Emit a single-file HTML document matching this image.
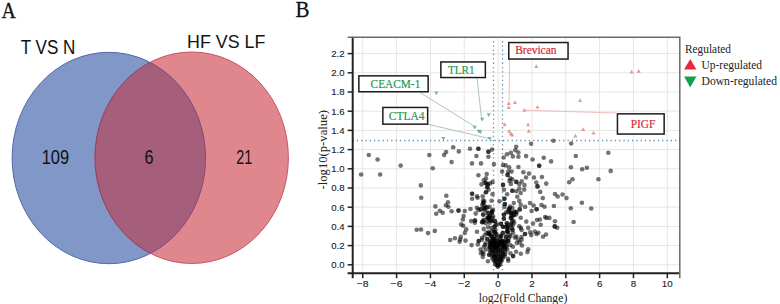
<!DOCTYPE html><html><head><meta charset="utf-8"><style>html,body{margin:0;padding:0;background:#fff;width:780px;height:304px;overflow:hidden}svg{display:block}</style></head><body>
<svg width="780" height="304" viewBox="0 0 780 304">
<rect width="780" height="304" fill="#fff"/>
<defs><clipPath id="cb"><ellipse cx="108.85" cy="158" rx="96.75" ry="105.7"/></clipPath><clipPath id="pa"><rect x="352.5" y="36.8" width="327" height="236.4"/></clipPath></defs>
<ellipse cx="108.85" cy="158" rx="96.75" ry="105.7" fill="#8097c8" stroke="#5266ae" stroke-width="1"/>
<ellipse cx="191.7" cy="157.75" rx="96.7" ry="105.75" fill="#df878c" stroke="#c65464" stroke-width="1"/>
<ellipse clip-path="url(#cb)" cx="191.7" cy="157.75" rx="96.7" ry="105.75" fill="#a55f7b" stroke="#8e4468" stroke-width="1"/>
<clipPath id="cr"><ellipse cx="191.7" cy="157.75" rx="96.7" ry="105.75"/></clipPath>
<ellipse cx="108.85" cy="158" rx="96.75" ry="105.7" fill="none" stroke="#7d4a7e" stroke-width="1" clip-path="url(#cr)"/>
<text x="1.5" y="17.5" font-size="24" font-family="&quot;Liberation Serif&quot;, serif" fill="#111" textLength="14.4" lengthAdjust="spacingAndGlyphs" stroke="#111" stroke-width="0.3">A</text>
<text x="20.7" y="54.3" font-size="19.5" font-family="&quot;Liberation Sans&quot;, sans-serif" fill="#111" textLength="54.7" lengthAdjust="spacingAndGlyphs">T VS N</text>
<text x="187.1" y="47.8" font-size="18.5" font-family="&quot;Liberation Sans&quot;, sans-serif" fill="#111" textLength="78.2" lengthAdjust="spacingAndGlyphs">HF VS LF</text>
<text x="41.7" y="164.1" font-size="20" font-family="&quot;Liberation Sans&quot;, sans-serif" fill="#111" textLength="27.4" lengthAdjust="spacingAndGlyphs">109</text>
<text x="144.5" y="163.7" font-size="20" font-family="&quot;Liberation Sans&quot;, sans-serif" fill="#111" textLength="9" lengthAdjust="spacingAndGlyphs">6</text>
<text x="236.3" y="164.2" font-size="20" font-family="&quot;Liberation Sans&quot;, sans-serif" fill="#111" textLength="16" lengthAdjust="spacingAndGlyphs">21</text>
<text x="295.6" y="17.1" font-size="24" font-family="&quot;Liberation Serif&quot;, serif" fill="#111" textLength="14" lengthAdjust="spacingAndGlyphs" stroke="#111" stroke-width="0.3">B</text>
<g stroke="#e6e6e6" stroke-width="1"><line x1="362.74" y1="36.8" x2="362.74" y2="273.2"/><line x1="396.58" y1="36.8" x2="396.58" y2="273.2"/><line x1="430.42" y1="36.8" x2="430.42" y2="273.2"/><line x1="464.26" y1="36.8" x2="464.26" y2="273.2"/><line x1="498.10" y1="36.8" x2="498.10" y2="273.2"/><line x1="531.94" y1="36.8" x2="531.94" y2="273.2"/><line x1="565.78" y1="36.8" x2="565.78" y2="273.2"/><line x1="599.62" y1="36.8" x2="599.62" y2="273.2"/><line x1="633.46" y1="36.8" x2="633.46" y2="273.2"/><line x1="667.30" y1="36.8" x2="667.30" y2="273.2"/><line x1="352.5" y1="264.80" x2="679.5" y2="264.80"/><line x1="352.5" y1="245.60" x2="679.5" y2="245.60"/><line x1="352.5" y1="226.40" x2="679.5" y2="226.40"/><line x1="352.5" y1="207.20" x2="679.5" y2="207.20"/><line x1="352.5" y1="188.00" x2="679.5" y2="188.00"/><line x1="352.5" y1="168.80" x2="679.5" y2="168.80"/><line x1="352.5" y1="149.60" x2="679.5" y2="149.60"/><line x1="352.5" y1="130.40" x2="679.5" y2="130.40"/><line x1="352.5" y1="111.20" x2="679.5" y2="111.20"/><line x1="352.5" y1="92.00" x2="679.5" y2="92.00"/><line x1="352.5" y1="72.80" x2="679.5" y2="72.80"/><line x1="352.5" y1="53.60" x2="679.5" y2="53.60"/></g>
<g stroke="#6690ad" stroke-width="1.3" stroke-dasharray="1.3 3"><line x1="493.5" y1="36.8" x2="493.5" y2="273.2"/><line x1="502.5" y1="36.8" x2="502.5" y2="273.2"/><line x1="352.5" y1="140.5" x2="679.5" y2="140.5"/></g>
<g fill="#000" fill-opacity="0.55" clip-path="url(#pa)"><circle cx="368.8" cy="155.0" r="2.3"/><circle cx="377.6" cy="159.5" r="2.3"/><circle cx="361.1" cy="174.5" r="2.3"/><circle cx="380.2" cy="174.5" r="2.3"/><circle cx="400.7" cy="165.6" r="2.3"/><circle cx="429.3" cy="155.0" r="2.3"/><circle cx="432.7" cy="168.2" r="2.3"/><circle cx="420.8" cy="185.4" r="2.3"/><circle cx="421.2" cy="197.8" r="2.3"/><circle cx="446.3" cy="195.8" r="2.3"/><circle cx="444.1" cy="155.0" r="2.3"/><circle cx="446.1" cy="152.0" r="2.3"/><circle cx="451.6" cy="162.1" r="2.3"/><circle cx="453.2" cy="147.2" r="2.3"/><circle cx="448.0" cy="202.3" r="2.3"/><circle cx="445.9" cy="205.3" r="2.3"/><circle cx="448.4" cy="206.8" r="2.3"/><circle cx="451.6" cy="211.2" r="2.3"/><circle cx="435.4" cy="206.4" r="2.3"/><circle cx="439.8" cy="210.8" r="2.3"/><circle cx="442.7" cy="212.8" r="2.3"/><circle cx="436.2" cy="213.7" r="2.3"/><circle cx="416.7" cy="229.7" r="2.3"/><circle cx="421.0" cy="229.5" r="2.3"/><circle cx="428.0" cy="233.1" r="2.3"/><circle cx="434.8" cy="230.9" r="2.3"/><circle cx="450.2" cy="240.0" r="2.3"/><circle cx="458.8" cy="151.4" r="2.3"/><circle cx="470.0" cy="148.8" r="2.3"/><circle cx="478.4" cy="148.8" r="2.3"/><circle cx="478.4" cy="148.8" r="2.3"/><circle cx="476.4" cy="156.0" r="2.3"/><circle cx="472.0" cy="163.4" r="2.3"/><circle cx="481.0" cy="163.4" r="2.3"/><circle cx="488.4" cy="151.8" r="2.3"/><circle cx="488.4" cy="151.8" r="2.3"/><circle cx="492.0" cy="149.6" r="2.3"/><circle cx="488.4" cy="156.8" r="2.3"/><circle cx="494.0" cy="164.3" r="2.3"/><circle cx="486.7" cy="174.0" r="2.3"/><circle cx="478.4" cy="175.3" r="2.3"/><circle cx="486.0" cy="178.4" r="2.3"/><circle cx="458.5" cy="210.6" r="2.3"/><circle cx="458.5" cy="210.6" r="2.3"/><circle cx="464.8" cy="211.0" r="2.3"/><circle cx="470.5" cy="209.0" r="2.3"/><circle cx="463.6" cy="216.0" r="2.3"/><circle cx="462.8" cy="219.5" r="2.3"/><circle cx="461.2" cy="224.4" r="2.3"/><circle cx="463.2" cy="225.8" r="2.3"/><circle cx="466.2" cy="229.4" r="2.3"/><circle cx="464.8" cy="232.9" r="2.3"/><circle cx="460.8" cy="236.9" r="2.3"/><circle cx="454.9" cy="238.3" r="2.3"/><circle cx="472.1" cy="193.8" r="2.3"/><circle cx="472.1" cy="193.8" r="2.3"/><circle cx="477.0" cy="196.2" r="2.3"/><circle cx="472.1" cy="198.8" r="2.3"/><circle cx="477.0" cy="207.7" r="2.3"/><circle cx="475.7" cy="213.6" r="2.3"/><circle cx="471.1" cy="221.1" r="2.3"/><circle cx="475.0" cy="220.5" r="2.3"/><circle cx="475.0" cy="220.5" r="2.3"/><circle cx="477.0" cy="231.8" r="2.3"/><circle cx="571.2" cy="143.5" r="2.3"/><circle cx="504.9" cy="204.0" r="2.3"/><circle cx="504.9" cy="204.0" r="2.3"/><circle cx="504.4" cy="206.9" r="2.3"/><circle cx="520.7" cy="204.9" r="2.3"/><circle cx="525.1" cy="206.9" r="2.3"/><circle cx="508.8" cy="209.4" r="2.3"/><circle cx="508.8" cy="209.4" r="2.3"/><circle cx="510.8" cy="212.8" r="2.3"/><circle cx="510.8" cy="212.8" r="2.3"/><circle cx="507.8" cy="212.3" r="2.3"/><circle cx="516.2" cy="212.3" r="2.3"/><circle cx="516.2" cy="212.3" r="2.3"/><circle cx="519.7" cy="209.4" r="2.3"/><circle cx="519.7" cy="209.4" r="2.3"/><circle cx="513.8" cy="215.3" r="2.3"/><circle cx="513.8" cy="215.3" r="2.3"/><circle cx="503.9" cy="214.8" r="2.3"/><circle cx="503.9" cy="214.8" r="2.3"/><circle cx="503.9" cy="218.8" r="2.3"/><circle cx="503.9" cy="218.8" r="2.3"/><circle cx="520.7" cy="217.8" r="2.3"/><circle cx="513.3" cy="220.7" r="2.3"/><circle cx="500.9" cy="223.7" r="2.3"/><circle cx="500.9" cy="223.7" r="2.3"/><circle cx="506.9" cy="223.2" r="2.3"/><circle cx="506.9" cy="223.2" r="2.3"/><circle cx="510.8" cy="224.7" r="2.3"/><circle cx="502.9" cy="226.7" r="2.3"/><circle cx="502.9" cy="226.7" r="2.3"/><circle cx="507.8" cy="227.7" r="2.3"/><circle cx="507.8" cy="227.7" r="2.3"/><circle cx="519.2" cy="226.2" r="2.3"/><circle cx="482.8" cy="256.9" r="2.3"/><circle cx="488.0" cy="261.3" r="2.3"/><circle cx="483.5" cy="253.9" r="2.3"/><circle cx="513.1" cy="256.1" r="2.3"/><circle cx="513.1" cy="256.1" r="2.3"/><circle cx="516.1" cy="251.7" r="2.3"/><circle cx="518.3" cy="239.8" r="2.3"/><circle cx="482.0" cy="239.6" r="2.3"/><circle cx="485.3" cy="244.9" r="2.3"/><circle cx="482.6" cy="252.1" r="2.3"/><circle cx="489.2" cy="254.7" r="2.3"/><circle cx="489.2" cy="254.7" r="2.3"/><circle cx="508.3" cy="260.7" r="2.3"/><circle cx="506.3" cy="242.9" r="2.3"/><circle cx="512.9" cy="246.8" r="2.3"/><circle cx="516.8" cy="242.9" r="2.3"/><circle cx="514.9" cy="237.6" r="2.3"/><circle cx="510.3" cy="236.3" r="2.3"/><circle cx="497.1" cy="224.6" r="2.3"/><circle cx="491.5" cy="231.4" r="2.3"/><circle cx="494.9" cy="232.3" r="2.3"/><circle cx="494.9" cy="232.3" r="2.3"/><circle cx="489.0" cy="234.0" r="2.3"/><circle cx="489.0" cy="234.0" r="2.3"/><circle cx="484.7" cy="235.3" r="2.3"/><circle cx="491.5" cy="235.7" r="2.3"/><circle cx="491.5" cy="235.7" r="2.3"/><circle cx="482.1" cy="237.8" r="2.3"/><circle cx="487.2" cy="239.1" r="2.3"/><circle cx="487.2" cy="239.1" r="2.3"/><circle cx="493.2" cy="239.1" r="2.3"/><circle cx="493.2" cy="239.1" r="2.3"/><circle cx="496.7" cy="237.4" r="2.3"/><circle cx="485.5" cy="243.4" r="2.3"/><circle cx="490.7" cy="243.8" r="2.3"/><circle cx="490.7" cy="243.8" r="2.3"/><circle cx="494.9" cy="242.5" r="2.3"/><circle cx="494.9" cy="242.5" r="2.3"/><circle cx="483.8" cy="246.8" r="2.3"/><circle cx="489.8" cy="246.8" r="2.3"/><circle cx="489.8" cy="246.8" r="2.3"/><circle cx="494.9" cy="246.8" r="2.3"/><circle cx="494.9" cy="246.8" r="2.3"/><circle cx="496.3" cy="234.0" r="2.3"/><circle cx="505.3" cy="227.1" r="2.3"/><circle cx="502.7" cy="233.1" r="2.3"/><circle cx="502.7" cy="233.1" r="2.3"/><circle cx="507.0" cy="231.4" r="2.3"/><circle cx="507.0" cy="231.4" r="2.3"/><circle cx="501.0" cy="236.5" r="2.3"/><circle cx="501.0" cy="236.5" r="2.3"/><circle cx="506.1" cy="236.5" r="2.3"/><circle cx="506.1" cy="236.5" r="2.3"/><circle cx="509.5" cy="234.8" r="2.3"/><circle cx="501.8" cy="241.7" r="2.3"/><circle cx="501.8" cy="241.7" r="2.3"/><circle cx="507.8" cy="240.8" r="2.3"/><circle cx="507.8" cy="240.8" r="2.3"/><circle cx="513.0" cy="233.1" r="2.3"/><circle cx="516.4" cy="236.5" r="2.3"/><circle cx="521.5" cy="237.0" r="2.3"/><circle cx="519.8" cy="242.5" r="2.3"/><circle cx="497.6" cy="246.0" r="2.3"/><circle cx="497.6" cy="246.0" r="2.3"/><circle cx="503.6" cy="246.0" r="2.3"/><circle cx="503.6" cy="246.0" r="2.3"/><circle cx="510.4" cy="245.1" r="2.3"/><circle cx="480.5" cy="249.5" r="2.3"/><circle cx="481.0" cy="253.2" r="2.3"/><circle cx="486.0" cy="249.5" r="2.3"/><circle cx="507.2" cy="249.5" r="2.3"/><circle cx="510.4" cy="253.2" r="2.3"/><circle cx="508.1" cy="258.7" r="2.3"/><circle cx="477.8" cy="244.5" r="2.3"/><circle cx="459.6" cy="241.8" r="2.3"/><circle cx="460.1" cy="239.5" r="2.3"/><circle cx="465.5" cy="240.6" r="2.3"/><circle cx="471.6" cy="245.1" r="2.3"/><circle cx="478.7" cy="241.1" r="2.3"/><circle cx="478.7" cy="241.1" r="2.3"/><circle cx="516.2" cy="146.8" r="2.3"/><circle cx="515.3" cy="150.3" r="2.3"/><circle cx="518.4" cy="152.5" r="2.3"/><circle cx="510.9" cy="152.8" r="2.3"/><circle cx="507.0" cy="154.2" r="2.3"/><circle cx="512.9" cy="156.4" r="2.3"/><circle cx="518.4" cy="156.8" r="2.3"/><circle cx="503.7" cy="157.5" r="2.3"/><circle cx="526.1" cy="156.1" r="2.3"/><circle cx="531.1" cy="143.7" r="2.3"/><circle cx="532.6" cy="159.5" r="2.3"/><circle cx="503.0" cy="165.0" r="2.3"/><circle cx="505.7" cy="165.4" r="2.3"/><circle cx="509.2" cy="167.4" r="2.3"/><circle cx="518.4" cy="167.0" r="2.3"/><circle cx="539.2" cy="165.7" r="2.3"/><circle cx="539.2" cy="165.7" r="2.3"/><circle cx="502.1" cy="171.6" r="2.3"/><circle cx="508.3" cy="171.6" r="2.3"/><circle cx="511.6" cy="171.6" r="2.3"/><circle cx="507.6" cy="174.9" r="2.3"/><circle cx="507.6" cy="174.9" r="2.3"/><circle cx="523.4" cy="172.2" r="2.3"/><circle cx="529.0" cy="173.6" r="2.3"/><circle cx="526.0" cy="177.5" r="2.3"/><circle cx="534.0" cy="177.5" r="2.3"/><circle cx="510.3" cy="178.4" r="2.3"/><circle cx="553.4" cy="140.8" r="2.3"/><circle cx="543.7" cy="157.8" r="2.3"/><circle cx="551.1" cy="161.4" r="2.3"/><circle cx="575.8" cy="156.0" r="2.3"/><circle cx="608.3" cy="152.8" r="2.3"/><circle cx="570.9" cy="167.2" r="2.3"/><circle cx="582.2" cy="169.3" r="2.3"/><circle cx="586.9" cy="167.7" r="2.3"/><circle cx="610.7" cy="170.9" r="2.3"/><circle cx="541.9" cy="177.0" r="2.3"/><circle cx="536.3" cy="182.5" r="2.3"/><circle cx="537.5" cy="186.4" r="2.3"/><circle cx="537.5" cy="186.4" r="2.3"/><circle cx="546.2" cy="183.6" r="2.3"/><circle cx="572.5" cy="179.2" r="2.3"/><circle cx="569.2" cy="182.3" r="2.3"/><circle cx="598.4" cy="179.2" r="2.3"/><circle cx="540.2" cy="191.9" r="2.3"/><circle cx="555.0" cy="194.0" r="2.3"/><circle cx="557.7" cy="196.5" r="2.3"/><circle cx="562.6" cy="194.5" r="2.3"/><circle cx="566.5" cy="198.1" r="2.3"/><circle cx="542.8" cy="198.1" r="2.3"/><circle cx="581.9" cy="202.7" r="2.3"/><circle cx="530.0" cy="203.0" r="2.3"/><circle cx="533.6" cy="205.5" r="2.3"/><circle cx="541.5" cy="205.0" r="2.3"/><circle cx="544.5" cy="206.7" r="2.3"/><circle cx="536.6" cy="209.3" r="2.3"/><circle cx="536.6" cy="209.3" r="2.3"/><circle cx="531.6" cy="211.0" r="2.3"/><circle cx="553.9" cy="206.0" r="2.3"/><circle cx="570.8" cy="208.3" r="2.3"/><circle cx="591.2" cy="208.5" r="2.3"/><circle cx="545.1" cy="217.0" r="2.3"/><circle cx="549.4" cy="217.9" r="2.3"/><circle cx="546.5" cy="217.9" r="2.3"/><circle cx="536.9" cy="220.0" r="2.3"/><circle cx="539.9" cy="219.5" r="2.3"/><circle cx="533.0" cy="223.6" r="2.3"/><circle cx="540.7" cy="224.8" r="2.3"/><circle cx="555.0" cy="221.2" r="2.3"/><circle cx="573.6" cy="222.0" r="2.3"/><circle cx="554.7" cy="226.4" r="2.3"/><circle cx="554.7" cy="226.4" r="2.3"/><circle cx="557.2" cy="227.7" r="2.3"/><circle cx="526.3" cy="221.6" r="2.3"/><circle cx="520.8" cy="227.9" r="2.3"/><circle cx="521.6" cy="229.9" r="2.3"/><circle cx="528.2" cy="227.9" r="2.3"/><circle cx="525.0" cy="234.0" r="2.3"/><circle cx="525.0" cy="234.0" r="2.3"/><circle cx="530.2" cy="232.3" r="2.3"/><circle cx="531.2" cy="235.1" r="2.3"/><circle cx="534.8" cy="231.5" r="2.3"/><circle cx="536.5" cy="234.0" r="2.3"/><circle cx="538.4" cy="232.8" r="2.3"/><circle cx="543.0" cy="236.8" r="2.3"/><circle cx="546.0" cy="234.5" r="2.3"/><circle cx="521.6" cy="239.8" r="2.3"/><circle cx="522.0" cy="245.5" r="2.3"/><circle cx="528.2" cy="249.3" r="2.3"/><circle cx="527.4" cy="252.1" r="2.3"/><circle cx="520.8" cy="253.7" r="2.3"/><circle cx="512.3" cy="179.4" r="2.3"/><circle cx="509.4" cy="180.9" r="2.3"/><circle cx="516.3" cy="181.9" r="2.3"/><circle cx="516.3" cy="181.9" r="2.3"/><circle cx="521.7" cy="181.4" r="2.3"/><circle cx="519.3" cy="184.4" r="2.3"/><circle cx="524.5" cy="185.1" r="2.3"/><circle cx="503.0" cy="184.9" r="2.3"/><circle cx="503.0" cy="184.9" r="2.3"/><circle cx="510.9" cy="183.9" r="2.3"/><circle cx="504.0" cy="189.8" r="2.3"/><circle cx="512.3" cy="190.8" r="2.3"/><circle cx="512.3" cy="190.8" r="2.3"/><circle cx="516.3" cy="191.3" r="2.3"/><circle cx="519.3" cy="188.8" r="2.3"/><circle cx="524.2" cy="189.6" r="2.3"/><circle cx="520.7" cy="193.0" r="2.3"/><circle cx="507.1" cy="194.3" r="2.3"/><circle cx="517.3" cy="196.7" r="2.3"/><circle cx="504.4" cy="198.7" r="2.3"/><circle cx="504.4" cy="198.7" r="2.3"/><circle cx="519.3" cy="200.9" r="2.3"/><circle cx="513.8" cy="203.1" r="2.3"/><circle cx="483.7" cy="180.4" r="2.3"/><circle cx="485.5" cy="182.9" r="2.3"/><circle cx="485.5" cy="182.9" r="2.3"/><circle cx="481.5" cy="184.4" r="2.3"/><circle cx="487.7" cy="184.4" r="2.3"/><circle cx="487.7" cy="184.4" r="2.3"/><circle cx="490.1" cy="183.4" r="2.3"/><circle cx="492.6" cy="181.9" r="2.3"/><circle cx="487.2" cy="187.3" r="2.3"/><circle cx="487.2" cy="187.3" r="2.3"/><circle cx="488.6" cy="189.8" r="2.3"/><circle cx="485.9" cy="192.3" r="2.3"/><circle cx="485.9" cy="192.3" r="2.3"/><circle cx="477.6" cy="197.7" r="2.3"/><circle cx="482.7" cy="196.2" r="2.3"/><circle cx="483.2" cy="200.2" r="2.3"/><circle cx="483.2" cy="202.7" r="2.3"/><circle cx="483.2" cy="202.7" r="2.3"/><circle cx="492.6" cy="194.3" r="2.3"/><circle cx="491.6" cy="200.7" r="2.3"/><circle cx="499.5" cy="201.2" r="2.3"/><circle cx="480.7" cy="209.4" r="2.3"/><circle cx="480.7" cy="209.4" r="2.3"/><circle cx="478.3" cy="209.9" r="2.3"/><circle cx="486.5" cy="207.4" r="2.3"/><circle cx="489.6" cy="206.9" r="2.3"/><circle cx="493.1" cy="209.9" r="2.3"/><circle cx="484.7" cy="209.9" r="2.3"/><circle cx="483.2" cy="214.6" r="2.3"/><circle cx="483.2" cy="214.6" r="2.3"/><circle cx="487.7" cy="212.8" r="2.3"/><circle cx="487.7" cy="212.8" r="2.3"/><circle cx="491.6" cy="212.8" r="2.3"/><circle cx="491.6" cy="212.8" r="2.3"/><circle cx="489.6" cy="216.3" r="2.3"/><circle cx="489.6" cy="216.3" r="2.3"/><circle cx="488.6" cy="218.3" r="2.3"/><circle cx="488.6" cy="218.3" r="2.3"/><circle cx="493.1" cy="216.3" r="2.3"/><circle cx="474.8" cy="222.7" r="2.3"/><circle cx="482.2" cy="222.2" r="2.3"/><circle cx="482.2" cy="222.2" r="2.3"/><circle cx="489.6" cy="222.7" r="2.3"/><circle cx="495.1" cy="221.2" r="2.3"/><circle cx="495.6" cy="224.2" r="2.3"/><circle cx="494.6" cy="226.7" r="2.3"/><circle cx="494.6" cy="226.7" r="2.3"/><circle cx="488.1" cy="227.2" r="2.3"/><circle cx="483.7" cy="229.1" r="2.3"/><circle cx="492.2" cy="239.1" r="2.3"/><circle cx="494.0" cy="239.0" r="2.3"/><circle cx="496.5" cy="239.3" r="2.3"/><circle cx="500.2" cy="239.3" r="2.3"/><circle cx="505.3" cy="239.5" r="2.3"/><circle cx="489.8" cy="240.8" r="2.3"/><circle cx="491.7" cy="241.1" r="2.3"/><circle cx="494.2" cy="241.4" r="2.3"/><circle cx="496.4" cy="241.2" r="2.3"/><circle cx="498.5" cy="241.3" r="2.3"/><circle cx="500.6" cy="240.9" r="2.3"/><circle cx="503.2" cy="241.6" r="2.3"/><circle cx="505.1" cy="241.3" r="2.3"/><circle cx="490.4" cy="243.1" r="2.3"/><circle cx="492.7" cy="243.5" r="2.3"/><circle cx="493.8" cy="242.9" r="2.3"/><circle cx="496.8" cy="243.2" r="2.3"/><circle cx="499.0" cy="243.1" r="2.3"/><circle cx="500.2" cy="243.3" r="2.3"/><circle cx="503.0" cy="243.0" r="2.3"/><circle cx="504.4" cy="243.0" r="2.3"/><circle cx="490.4" cy="245.0" r="2.3"/><circle cx="492.3" cy="245.2" r="2.3"/><circle cx="494.0" cy="245.5" r="2.3"/><circle cx="496.0" cy="245.4" r="2.3"/><circle cx="498.1" cy="245.2" r="2.3"/><circle cx="500.3" cy="245.1" r="2.3"/><circle cx="503.2" cy="245.6" r="2.3"/><circle cx="504.6" cy="245.7" r="2.3"/><circle cx="506.6" cy="245.2" r="2.3"/><circle cx="489.8" cy="247.2" r="2.3"/><circle cx="492.5" cy="247.2" r="2.3"/><circle cx="494.1" cy="247.0" r="2.3"/><circle cx="496.0" cy="247.5" r="2.3"/><circle cx="498.2" cy="247.5" r="2.3"/><circle cx="500.5" cy="247.4" r="2.3"/><circle cx="503.2" cy="247.4" r="2.3"/><circle cx="504.9" cy="247.8" r="2.3"/><circle cx="506.6" cy="247.1" r="2.3"/><circle cx="490.3" cy="249.9" r="2.3"/><circle cx="491.9" cy="250.0" r="2.3"/><circle cx="494.7" cy="249.6" r="2.3"/><circle cx="496.3" cy="249.1" r="2.3"/><circle cx="498.0" cy="250.0" r="2.3"/><circle cx="500.3" cy="249.7" r="2.3"/><circle cx="502.5" cy="249.8" r="2.3"/><circle cx="504.9" cy="249.3" r="2.3"/><circle cx="490.2" cy="251.4" r="2.3"/><circle cx="492.6" cy="251.3" r="2.3"/><circle cx="493.8" cy="251.4" r="2.3"/><circle cx="496.3" cy="251.2" r="2.3"/><circle cx="498.2" cy="251.5" r="2.3"/><circle cx="500.7" cy="251.2" r="2.3"/><circle cx="502.6" cy="252.0" r="2.3"/><circle cx="505.3" cy="251.8" r="2.3"/><circle cx="491.7" cy="253.8" r="2.3"/><circle cx="494.3" cy="253.9" r="2.3"/><circle cx="496.2" cy="254.2" r="2.3"/><circle cx="498.1" cy="253.7" r="2.3"/><circle cx="500.8" cy="254.1" r="2.3"/><circle cx="502.9" cy="253.9" r="2.3"/><circle cx="505.1" cy="254.1" r="2.3"/><circle cx="492.3" cy="255.7" r="2.3"/><circle cx="494.4" cy="255.9" r="2.3"/><circle cx="496.0" cy="255.9" r="2.3"/><circle cx="499.0" cy="256.2" r="2.3"/><circle cx="500.8" cy="255.7" r="2.3"/><circle cx="502.9" cy="255.9" r="2.3"/><circle cx="504.7" cy="256.1" r="2.3"/><circle cx="492.3" cy="258.3" r="2.3"/><circle cx="494.1" cy="257.4" r="2.3"/><circle cx="496.2" cy="258.1" r="2.3"/><circle cx="498.2" cy="257.6" r="2.3"/><circle cx="501.0" cy="258.1" r="2.3"/><circle cx="502.6" cy="258.3" r="2.3"/><circle cx="493.6" cy="260.3" r="2.3"/><circle cx="495.6" cy="260.5" r="2.3"/><circle cx="497.3" cy="259.7" r="2.3"/><circle cx="499.6" cy="259.8" r="2.3"/><circle cx="501.4" cy="259.9" r="2.3"/><circle cx="494.9" cy="261.7" r="2.3"/><circle cx="497.5" cy="261.6" r="2.3"/><circle cx="499.9" cy="261.8" r="2.3"/><circle cx="501.3" cy="261.6" r="2.3"/><circle cx="495.2" cy="264.0" r="2.3"/><circle cx="497.7" cy="264.2" r="2.3"/><circle cx="499.7" cy="264.5" r="2.3"/><circle cx="497.7" cy="266.6" r="2.3"/><circle cx="498.0" cy="266.3" r="2.3"/><circle cx="496.5" cy="265.0" r="2.3"/><circle cx="499.5" cy="265.0" r="2.3"/><circle cx="490.7" cy="235.8" r="2.3"/><circle cx="482.2" cy="205.1" r="2.3"/><circle cx="485.7" cy="223.3" r="2.3"/><circle cx="488.8" cy="233.0" r="2.3"/><circle cx="489.7" cy="216.3" r="2.3"/><circle cx="493.6" cy="236.5" r="2.3"/><circle cx="487.8" cy="220.7" r="2.3"/><circle cx="484.5" cy="208.9" r="2.3"/><circle cx="491.6" cy="227.7" r="2.3"/><circle cx="487.0" cy="207.5" r="2.3"/><circle cx="492.5" cy="217.8" r="2.3"/><circle cx="489.9" cy="242.3" r="2.3"/><circle cx="486.5" cy="232.9" r="2.3"/><circle cx="493.7" cy="230.9" r="2.3"/><circle cx="484.3" cy="201.4" r="2.3"/><circle cx="484.1" cy="207.8" r="2.3"/><circle cx="496.3" cy="234.7" r="2.3"/><circle cx="490.4" cy="220.4" r="2.3"/><circle cx="484.0" cy="219.8" r="2.3"/><circle cx="484.6" cy="205.9" r="2.3"/><circle cx="491.0" cy="220.5" r="2.3"/><circle cx="487.3" cy="217.3" r="2.3"/><circle cx="483.0" cy="220.6" r="2.3"/><circle cx="483.4" cy="221.8" r="2.3"/><circle cx="492.1" cy="211.7" r="2.3"/><circle cx="488.5" cy="232.4" r="2.3"/><circle cx="493.2" cy="241.1" r="2.3"/><circle cx="494.9" cy="220.9" r="2.3"/><circle cx="495.5" cy="230.1" r="2.3"/><circle cx="491.8" cy="211.0" r="2.3"/><circle cx="487.9" cy="218.4" r="2.3"/><circle cx="492.4" cy="221.0" r="2.3"/><circle cx="508.8" cy="238.3" r="2.3"/><circle cx="511.6" cy="227.9" r="2.3"/><circle cx="509.8" cy="208.2" r="2.3"/><circle cx="511.6" cy="215.7" r="2.3"/><circle cx="506.2" cy="212.3" r="2.3"/><circle cx="507.9" cy="231.3" r="2.3"/><circle cx="507.2" cy="225.3" r="2.3"/><circle cx="511.3" cy="212.6" r="2.3"/><circle cx="511.1" cy="223.9" r="2.3"/><circle cx="512.8" cy="225.0" r="2.3"/><circle cx="514.8" cy="211.5" r="2.3"/><circle cx="500.1" cy="235.8" r="2.3"/><circle cx="508.4" cy="241.2" r="2.3"/><circle cx="507.7" cy="232.0" r="2.3"/><circle cx="512.4" cy="230.0" r="2.3"/><circle cx="511.3" cy="218.2" r="2.3"/><circle cx="510.1" cy="206.6" r="2.3"/><circle cx="501.7" cy="241.6" r="2.3"/><circle cx="512.0" cy="221.0" r="2.3"/><circle cx="516.2" cy="214.4" r="2.3"/><circle cx="500.1" cy="243.9" r="2.3"/><circle cx="511.3" cy="216.5" r="2.3"/><circle cx="507.4" cy="227.1" r="2.3"/><circle cx="514.2" cy="222.8" r="2.3"/><circle cx="513.7" cy="212.6" r="2.3"/><circle cx="510.7" cy="218.0" r="2.3"/><circle cx="512.4" cy="208.0" r="2.3"/><circle cx="512.5" cy="229.4" r="2.3"/></g>
<g stroke="#f0bcbc" stroke-width="1" fill="none"><polyline points="509.6,59.8 509.1,101"/><polyline points="525,110.2 616.5,113"/></g>
<g stroke="#adc7bc" stroke-width="1" fill="none"><polyline points="419.6,92.2 475.3,127"/><polyline points="428.2,124.4 489.7,138.6"/><polyline points="477.1,78.7 481.7,120.3"/></g>
<g fill="#e07a7a" fill-opacity="0.75"><path d="M506.60,104.90L510.80,104.90L508.70,101.20Z"/><path d="M506.60,109.00L510.80,109.00L508.70,105.30Z"/><path d="M512.80,104.00L517.00,104.00L514.90,100.30Z"/><path d="M522.20,111.80L526.40,111.80L524.30,108.10Z"/><path d="M535.40,108.60L539.60,108.60L537.50,104.90Z"/><path d="M502.50,125.90L506.70,125.90L504.60,122.20Z"/><path d="M526.00,126.20L530.20,126.20L528.10,122.50Z"/><path d="M526.80,132.80L531.00,132.80L528.90,129.10Z"/><path d="M507.10,132.80L511.30,132.80L509.20,129.10Z"/><path d="M508.70,135.30L512.90,135.30L510.80,131.60Z"/><path d="M510.00,136.40L514.20,136.40L512.10,132.70Z"/><path d="M534.20,67.90L538.40,67.90L536.30,64.20Z"/><path d="M629.50,73.50L633.70,73.50L631.60,69.80Z"/><path d="M636.60,72.70L640.80,72.70L638.70,69.00Z"/><path d="M578.00,102.00L582.20,102.00L580.10,98.30Z"/><path d="M581.00,131.00L585.20,131.00L583.10,127.30Z"/><path d="M573.30,137.50L577.50,137.50L575.40,133.80Z"/><path d="M591.40,134.50L595.60,134.50L593.50,130.80Z"/></g>
<g fill="#5aa585" fill-opacity="0.8"><path d="M434.20,91.60L438.40,91.60L436.30,95.30Z"/><path d="M480.10,117.80L484.30,117.80L482.20,121.50Z"/><path d="M486.60,113.30L490.80,113.30L488.70,117.00Z"/><path d="M472.60,125.70L476.80,125.70L474.70,129.40Z"/><path d="M476.80,129.70L481.00,129.70L478.90,133.40Z"/><path d="M478.20,130.60L482.40,130.60L480.30,134.30Z"/><path d="M441.30,136.90L445.50,136.90L443.40,140.60Z"/><path d="M487.60,136.90L491.80,136.90L489.70,140.60Z"/></g>
<g stroke="#222" stroke-width="2" fill="none"><line x1="352.7" y1="36.8" x2="352.7" y2="278.2"/><line x1="347.6" y1="273.2" x2="679.5" y2="273.2"/></g>
<g stroke="#6a6a6a" stroke-width="1.5" fill="none"><path d="M347.6,37.2L679.8,37.2L679.8,278.2"/></g>
<g stroke="#222" stroke-width="1.5"><line x1="362.74" y1="273.2" x2="362.74" y2="278.2"/><line x1="396.58" y1="273.2" x2="396.58" y2="278.2"/><line x1="430.42" y1="273.2" x2="430.42" y2="278.2"/><line x1="464.26" y1="273.2" x2="464.26" y2="278.2"/><line x1="498.10" y1="273.2" x2="498.10" y2="278.2"/><line x1="531.94" y1="273.2" x2="531.94" y2="278.2"/><line x1="565.78" y1="273.2" x2="565.78" y2="278.2"/><line x1="599.62" y1="273.2" x2="599.62" y2="278.2"/><line x1="633.46" y1="273.2" x2="633.46" y2="278.2"/><line x1="667.30" y1="273.2" x2="667.30" y2="278.2"/><line x1="347.6" y1="264.80" x2="352.7" y2="264.80"/><line x1="347.6" y1="245.60" x2="352.7" y2="245.60"/><line x1="347.6" y1="226.40" x2="352.7" y2="226.40"/><line x1="347.6" y1="207.20" x2="352.7" y2="207.20"/><line x1="347.6" y1="188.00" x2="352.7" y2="188.00"/><line x1="347.6" y1="168.80" x2="352.7" y2="168.80"/><line x1="347.6" y1="149.60" x2="352.7" y2="149.60"/><line x1="347.6" y1="130.40" x2="352.7" y2="130.40"/><line x1="347.6" y1="111.20" x2="352.7" y2="111.20"/><line x1="347.6" y1="92.00" x2="352.7" y2="92.00"/><line x1="347.6" y1="72.80" x2="352.7" y2="72.80"/><line x1="347.6" y1="53.60" x2="352.7" y2="53.60"/></g>
<text x="362.74" y="287.2" font-size="9.8" font-family="&quot;Liberation Sans&quot;, sans-serif" fill="#222" textLength="11.9" lengthAdjust="spacingAndGlyphs" text-anchor="middle" stroke="#222" stroke-width="0.12">−8</text>
<text x="396.58" y="287.2" font-size="9.8" font-family="&quot;Liberation Sans&quot;, sans-serif" fill="#222" textLength="11.9" lengthAdjust="spacingAndGlyphs" text-anchor="middle" stroke="#222" stroke-width="0.12">−6</text>
<text x="430.42" y="287.2" font-size="9.8" font-family="&quot;Liberation Sans&quot;, sans-serif" fill="#222" textLength="11.9" lengthAdjust="spacingAndGlyphs" text-anchor="middle" stroke="#222" stroke-width="0.12">−4</text>
<text x="464.26" y="287.2" font-size="9.8" font-family="&quot;Liberation Sans&quot;, sans-serif" fill="#222" textLength="11.9" lengthAdjust="spacingAndGlyphs" text-anchor="middle" stroke="#222" stroke-width="0.12">−2</text>
<text x="498.10" y="287.2" font-size="9.8" font-family="&quot;Liberation Sans&quot;, sans-serif" fill="#222" text-anchor="middle" stroke="#222" stroke-width="0.12">0</text>
<text x="531.94" y="287.2" font-size="9.8" font-family="&quot;Liberation Sans&quot;, sans-serif" fill="#222" text-anchor="middle" stroke="#222" stroke-width="0.12">2</text>
<text x="565.78" y="287.2" font-size="9.8" font-family="&quot;Liberation Sans&quot;, sans-serif" fill="#222" text-anchor="middle" stroke="#222" stroke-width="0.12">4</text>
<text x="599.62" y="287.2" font-size="9.8" font-family="&quot;Liberation Sans&quot;, sans-serif" fill="#222" text-anchor="middle" stroke="#222" stroke-width="0.12">6</text>
<text x="633.46" y="287.2" font-size="9.8" font-family="&quot;Liberation Sans&quot;, sans-serif" fill="#222" text-anchor="middle" stroke="#222" stroke-width="0.12">8</text>
<text x="667.30" y="287.2" font-size="9.8" font-family="&quot;Liberation Sans&quot;, sans-serif" fill="#222" text-anchor="middle" stroke="#222" stroke-width="0.12">10</text>
<text x="344.6" y="268.20" font-size="9.5" font-family="&quot;Liberation Sans&quot;, sans-serif" fill="#222" textLength="13.3" lengthAdjust="spacingAndGlyphs" text-anchor="end" stroke="#222" stroke-width="0.12">0.0</text>
<text x="344.6" y="249.00" font-size="9.5" font-family="&quot;Liberation Sans&quot;, sans-serif" fill="#222" textLength="13.3" lengthAdjust="spacingAndGlyphs" text-anchor="end" stroke="#222" stroke-width="0.12">0.2</text>
<text x="344.6" y="229.80" font-size="9.5" font-family="&quot;Liberation Sans&quot;, sans-serif" fill="#222" textLength="13.3" lengthAdjust="spacingAndGlyphs" text-anchor="end" stroke="#222" stroke-width="0.12">0.4</text>
<text x="344.6" y="210.60" font-size="9.5" font-family="&quot;Liberation Sans&quot;, sans-serif" fill="#222" textLength="13.3" lengthAdjust="spacingAndGlyphs" text-anchor="end" stroke="#222" stroke-width="0.12">0.6</text>
<text x="344.6" y="191.40" font-size="9.5" font-family="&quot;Liberation Sans&quot;, sans-serif" fill="#222" textLength="13.3" lengthAdjust="spacingAndGlyphs" text-anchor="end" stroke="#222" stroke-width="0.12">0.8</text>
<text x="344.6" y="172.20" font-size="9.5" font-family="&quot;Liberation Sans&quot;, sans-serif" fill="#222" textLength="13.3" lengthAdjust="spacingAndGlyphs" text-anchor="end" stroke="#222" stroke-width="0.12">1.0</text>
<text x="344.6" y="153.00" font-size="9.5" font-family="&quot;Liberation Sans&quot;, sans-serif" fill="#222" textLength="13.3" lengthAdjust="spacingAndGlyphs" text-anchor="end" stroke="#222" stroke-width="0.12">1.2</text>
<text x="344.6" y="133.80" font-size="9.5" font-family="&quot;Liberation Sans&quot;, sans-serif" fill="#222" textLength="13.3" lengthAdjust="spacingAndGlyphs" text-anchor="end" stroke="#222" stroke-width="0.12">1.4</text>
<text x="344.6" y="114.60" font-size="9.5" font-family="&quot;Liberation Sans&quot;, sans-serif" fill="#222" textLength="13.3" lengthAdjust="spacingAndGlyphs" text-anchor="end" stroke="#222" stroke-width="0.12">1.6</text>
<text x="344.6" y="95.40" font-size="9.5" font-family="&quot;Liberation Sans&quot;, sans-serif" fill="#222" textLength="13.3" lengthAdjust="spacingAndGlyphs" text-anchor="end" stroke="#222" stroke-width="0.12">1.8</text>
<text x="344.6" y="76.20" font-size="9.5" font-family="&quot;Liberation Sans&quot;, sans-serif" fill="#222" textLength="13.3" lengthAdjust="spacingAndGlyphs" text-anchor="end" stroke="#222" stroke-width="0.12">2.0</text>
<text x="344.6" y="57.00" font-size="9.5" font-family="&quot;Liberation Sans&quot;, sans-serif" fill="#222" textLength="13.3" lengthAdjust="spacingAndGlyphs" text-anchor="end" stroke="#222" stroke-width="0.12">2.2</text>
<text x="478.7" y="301.4" font-size="12.5" font-family="&quot;Liberation Serif&quot;, serif" fill="#222" textLength="88.6" lengthAdjust="spacingAndGlyphs" dy="0.6">log2(Fold Change)</text>
<text transform="translate(326.5,189.5) rotate(-90)" font-size="12" font-family="&quot;Liberation Serif&quot;, serif" fill="#222" textLength="79.5" lengthAdjust="spacingAndGlyphs">-log10(p-value)</text>
<rect x="508.75" y="42.55" width="59.30" height="16.50" fill="#fff" stroke="#1c1c1c" stroke-width="1.5"/><text x="515.2" y="53.6" font-size="12" font-family="&quot;Liberation Serif&quot;, serif" fill="#d42832" textLength="41.3" lengthAdjust="spacingAndGlyphs" stroke="#d42832" stroke-width="0.2">Brevican</text>
<rect x="617.45" y="113.85" width="46.70" height="20.20" fill="#fff" stroke="#1c1c1c" stroke-width="1.5"/><text x="630.7" y="128" font-size="13.5" font-family="&quot;Liberation Serif&quot;, serif" fill="#d42832" textLength="24.7" lengthAdjust="spacingAndGlyphs" stroke="#d42832" stroke-width="0.2">PIGF</text>
<rect x="358.85" y="75.85" width="69.30" height="15.90" fill="#fff" stroke="#1c1c1c" stroke-width="1.5"/><text x="370.6" y="87.6" font-size="12" font-family="&quot;Liberation Serif&quot;, serif" fill="#1f9a50" textLength="49.7" lengthAdjust="spacingAndGlyphs" stroke="#1f9a50" stroke-width="0.2">CEACM-1</text>
<rect x="382.85" y="107.45" width="44.80" height="16.70" fill="#fff" stroke="#1c1c1c" stroke-width="1.5"/><text x="388.7" y="120" font-size="12" font-family="&quot;Liberation Serif&quot;, serif" fill="#1f9a50" textLength="35.9" lengthAdjust="spacingAndGlyphs" stroke="#1f9a50" stroke-width="0.2">CTLA4</text>
<rect x="440.85" y="61.95" width="44.50" height="15.60" fill="#fff" stroke="#1c1c1c" stroke-width="1.5"/><text x="447.9" y="73.8" font-size="12" font-family="&quot;Liberation Serif&quot;, serif" fill="#1f9a50" textLength="26.8" lengthAdjust="spacingAndGlyphs" stroke="#1f9a50" stroke-width="0.2">TLR1</text>
<text x="685" y="53" font-size="12" font-family="&quot;Liberation Serif&quot;, serif" fill="#222" textLength="46" lengthAdjust="spacingAndGlyphs">Regulated</text>
<path d="M684.1,69.6L696.4,69.6L690.25,58.9Z" fill="#e8283a"/>
<path d="M684.1,76.6L696.4,76.6L690.25,87.6Z" fill="#13a24a"/>
<text x="701.5" y="69" font-size="12" font-family="&quot;Liberation Serif&quot;, serif" fill="#222" textLength="60.5" lengthAdjust="spacingAndGlyphs">Up-regulated</text>
<text x="701.5" y="85.2" font-size="12" font-family="&quot;Liberation Serif&quot;, serif" fill="#222" textLength="75.5" lengthAdjust="spacingAndGlyphs">Down-regulated</text>
</svg></body></html>
